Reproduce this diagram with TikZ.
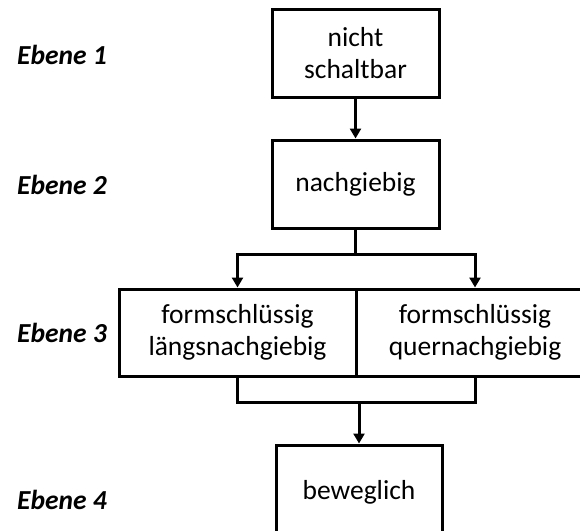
\documentclass[tikz,border=0pt]{standalone}
\usepackage{fontspec}
\setmainfont{Carlito}
\usetikzlibrary{arrows.meta}
\begin{document}
\begin{tikzpicture}[x=1pt,y=-1pt,
  box/.style={draw, line width=3pt, align=center, inner sep=0pt, font=\fontsize{27.5}{32.5}\selectfont},
  lvl/.style={anchor=west, inner sep=0pt, font=\fontsize{27.5}{32.5}\selectfont\bfseries\itshape},
  conn/.style={line width=3pt},
  arr/.style={conn, -{Triangle[length=10pt,width=11pt]}}]
\useasboundingbox (0,0) rectangle (580,530);
\node[box, minimum width=167pt, minimum height=88pt] (b1) at (355.5,53) {nicht\\schaltbar};
\node[box, minimum width=167pt, minimum height=88pt] (b2) at (355.5,184) {nachgiebig};
\node[box, minimum width=237pt, minimum height=87pt] (l3) at (237.5,332.5) {formschlüssig\\längsnachgiebig};
\node[box, minimum width=238pt, minimum height=87pt] (r3) at (475,332.5) {formschlüssig\\quernachgiebig};
\node[box, minimum width=166pt, minimum height=94pt] (b4) at (359,492) {beweglich};
\node[lvl] (e1) at (17,55) {Ebene 1};
\node[lvl] (e2) at (17,185) {Ebene 2};
\node[lvl] (e3) at (17,333) {Ebene 3};
\node[lvl] (e4) at (17,500) {Ebene 4};
\coordinate (s) at (355.5,254);
\coordinate (m) at (359,402);
\draw[arr] (b1) -- (b2);
\draw[conn] (b2.south) -- (s);
\draw[arr] (s) -| (l3.north);
\draw[arr] (s) -| (r3.north);
\draw[conn] (l3.south) |- (m) -| (r3.south);
\draw[arr] (m) -- (b4.north);
\end{tikzpicture}
\end{document}
